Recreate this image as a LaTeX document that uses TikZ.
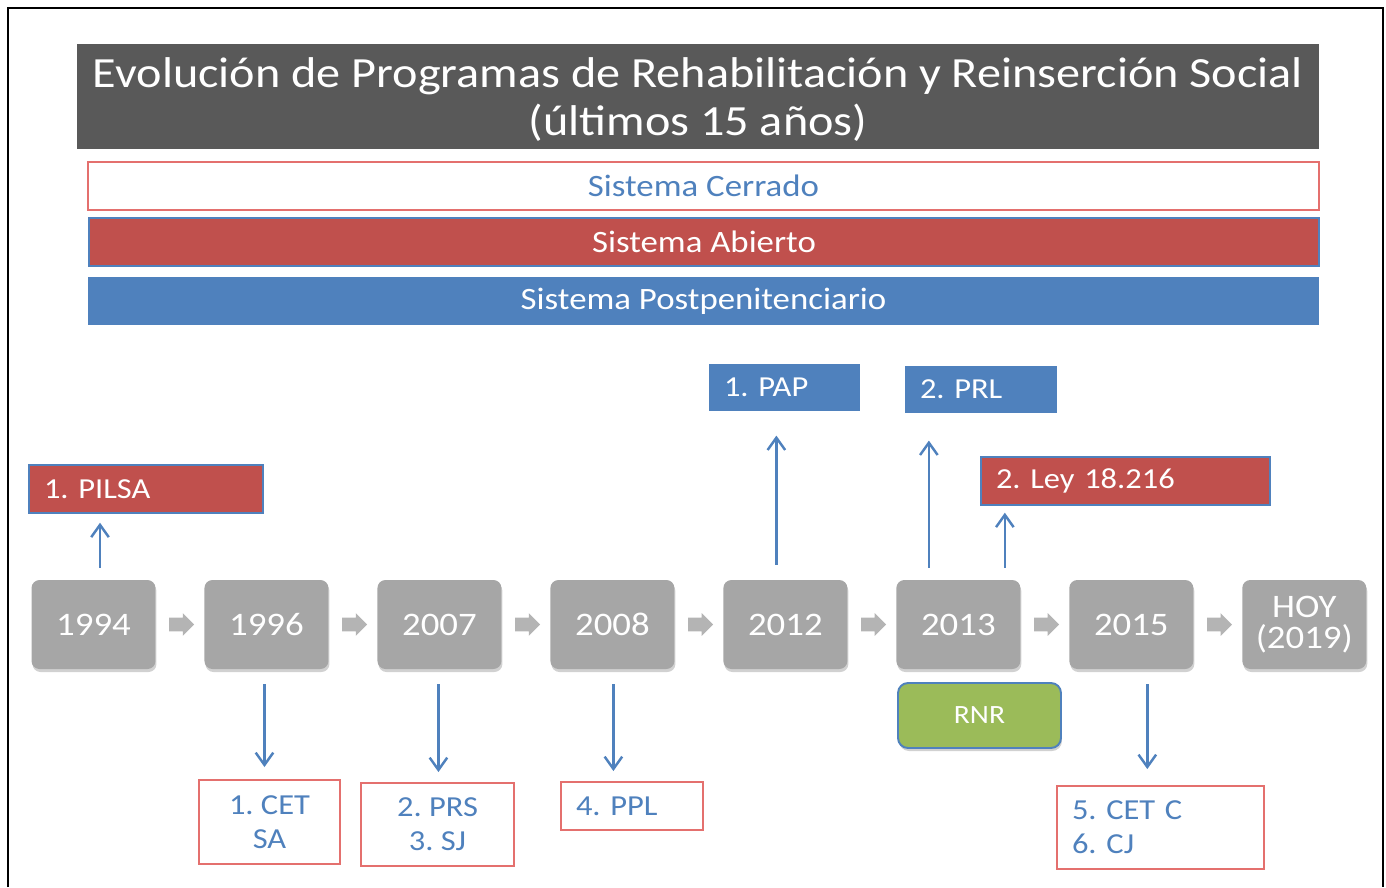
\documentclass[tikz,border=0pt]{standalone}
\usepackage{fontspec}
\setmainfont{Carlito}[FakeStretch=1.12]
\usepackage{tikz}
\usetikzlibrary{arrows.meta, positioning, shapes.arrows, shadows}
\frenchspacing

\definecolor{titlegray}{HTML}{595959}
\definecolor{progred}{HTML}{C0504D}
\definecolor{progblue}{HTML}{4F81BD}
\definecolor{salmon}{RGB}{228,112,110}
\definecolor{yeargray}{HTML}{A6A6A6}
\definecolor{stepgray}{HTML}{B4B4B4}
\definecolor{rnrgreen}{HTML}{9BBB59}

\tikzset{
  bar/.style={rectangle, minimum width=24.62cm, minimum height=0.96cm, inner sep=0pt,
    font=\fontsize{17.7}{20}\selectfont},
  yearbox/.style={rectangle, rounded corners=0.16cm, fill=yeargray, minimum width=2.48cm,
    minimum height=1.78cm, text=white, align=center, font=\fontsize{18.7}{17.6}\selectfont,
    drop shadow={shadow xshift=0.02cm, shadow yshift=-0.06cm, opacity=0.3, fill=black!60}},
  stepper/.style={single arrow, fill=stepgray, inner sep=0pt, inner ysep=0.13cm,
    single arrow head extend=0.09cm, minimum height=0.5cm},
  progbox/.style={rectangle, minimum height=0.95cm, inner xsep=0.3cm, inner ysep=0pt,
    align=left, text=white, font=\fontsize{16.5}{18}\selectfont},
  outbox/.style={rectangle, draw=salmon, line width=1.1pt, fill=white, text=progblue,
    font=\fontsize{16.5}{19.3}\selectfont},
  uparr/.style={progblue, line width=1.4pt, -{Straight Barb[length=7pt, width=10pt]}},
}

\begin{document}
\begin{tikzpicture}[x=0.02cm, y=-0.02cm]
  \useasboundingbox (0,0) rectangle (1386,887);

  % frame
  \draw[line width=1.1pt] (8,887) -- (8,8) -- (1383,8) -- (1383,887);

  % title and the three systems
  \node[rectangle, fill=titlegray, minimum width=24.84cm, minimum height=2.1cm, text=white,
    align=center, text depth=0pt, font=\fontsize{24.5}{27.8}\selectfont] (title) at (698,96.5)
    {Evolución de Programas de Rehabilitación y Reinserción Social\\(últimos 15 años)};
  \node[bar, draw=salmon, line width=1.1pt, text=progblue] (cerrado) at (703.5,186) {Sistema Cerrado};
  \node[bar, fill=progred, draw=progblue, line width=1.1pt, text=white] (abierto) at (704,242) {Sistema Abierto};
  \node[bar, fill=progblue, text=white] (post) at (703.5,301) {Sistema Postpenitenciario};

  % timeline
  \node[yearbox] (y1994) at (93.5,624.5) {1994};
  \node[yearbox, right=0.966cm of y1994] (y1996) {1996};
  \node[yearbox, right=0.966cm of y1996] (y2007) {2007};
  \node[yearbox, right=0.966cm of y2007] (y2008) {2008};
  \node[yearbox, right=0.966cm of y2008] (y2012) {2012};
  \node[yearbox, right=0.966cm of y2012] (y2013) {2013};
  \node[yearbox, right=0.966cm of y2013] (y2015) {2015};
  \node[yearbox, right=0.966cm of y2015] (yhoy) {HOY\\(2019)};

  \foreach \a in {1994,1996,2007,2008,2012,2013,2015} {
    \node[stepper, right=0.26cm of y\a] (step\a) {};
  }

  % programs above
  \node[progbox, fill=progred, draw=progblue, line width=1.1pt, text width=4.08cm] (pilsa) at (146,489) {1. PILSA};
  \node[progbox, fill=progblue, text width=2.42cm] (pap) at (784.5,387.5) {1. PAP};
  \node[progbox, fill=progblue, text width=2.44cm] (prl) at (981,389.5) {2. PRL};
  \node[progbox, fill=progred, draw=progblue, line width=1.1pt, text width=5.18cm] (ley) at (1125.5,481) {2. Ley 18.216};

  % programs below
  \node[outbox, minimum width=2.82cm, minimum height=1.68cm, align=center] (cetsa) at (269.5,822) {1. CET\\SA};
  \node[outbox, minimum width=3.06cm, minimum height=1.66cm, align=center] (prssj) at (437.5,824.5) {2. PRS\\3. SJ};
  \node[outbox, minimum height=0.96cm, inner xsep=0.3cm, text width=2.24cm, align=left] (ppl) at (632,806) {4. PPL};
  \node[outbox, minimum height=1.66cm, inner xsep=0.3cm, text width=3.54cm, align=left] (cetcj) at (1160.5,827.5) {5. CET C\\6. CJ};

  \node[rectangle, rounded corners=0.2cm, fill=rnrgreen, draw=progblue, line width=1.1pt,
    minimum width=3.26cm, minimum height=1.3cm, text=white, font=\fontsize{15}{18}\selectfont,
    drop shadow={shadow xshift=0.02cm, shadow yshift=-0.06cm, opacity=0.3, fill=black!60}] (rnr) at (979.5,715.5) {RNR};

  % arrows
  \draw[uparr, shorten <=0.24cm, shorten >=0.18cm] ([xshift=0.13cm]y1994.north) -- ([xshift=0.13cm]y1994.north |- pilsa.south);
  \draw[uparr, shorten <=0.3cm, shorten >=0.48cm] ([xshift=-0.18cm]y2012.north) -- ([xshift=-0.18cm]y2012.north |- pap.south);
  \draw[uparr, shorten <=0.24cm, shorten >=0.54cm] ([xshift=-0.59cm]y2013.north) -- ([xshift=-0.59cm]y2013.north |- prl.south);
  \draw[uparr, shorten <=0.24cm, shorten >=0.14cm] ([xshift=0.93cm]y2013.north) -- ([xshift=0.93cm]y2013.north |- ley.south);
  \draw[uparr, shorten <=0.3cm, shorten >=0.24cm] ([xshift=-0.04cm]y1996.south) -- ([xshift=-0.04cm]y1996.south |- cetsa.north);
  \draw[uparr, shorten <=0.3cm, shorten >=0.2cm] ([xshift=-0.02cm]y2007.south) -- ([xshift=-0.02cm]y2007.south |- prssj.north);
  \draw[uparr, shorten <=0.3cm, shorten >=0.2cm] ([xshift=0.02cm]y2008.south) -- ([xshift=0.02cm]y2008.south |- ppl.north);
  \draw[uparr, shorten <=0.3cm, shorten >=0.32cm] ([xshift=0.32cm]y2015.south) -- ([xshift=0.32cm]y2015.south |- cetcj.north);
\end{tikzpicture}
\end{document}
